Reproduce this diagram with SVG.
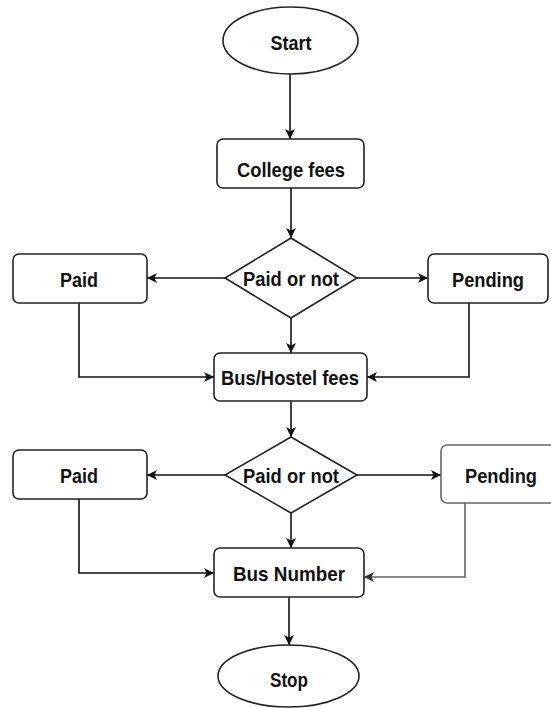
<svg xmlns="http://www.w3.org/2000/svg" width="551" height="708" viewBox="0 0 551 708">
<style>
.n{fill:#fff;stroke:#222;stroke-width:1.6}
.g{stroke:#666}
.t{font-family:"Liberation Sans",Arial,sans-serif;font-weight:bold;font-size:21px;fill:#111;text-anchor:middle}
.c{fill:none;stroke:#111;stroke-width:1.6;marker-end:url(#a)}
.cg{stroke:#666;marker-end:url(#ag)}
</style>
<defs>
<marker id="a" markerUnits="userSpaceOnUse" markerWidth="12" markerHeight="11" refX="10" refY="5.5" orient="auto">
<path d="M0,0.5 L10,5.5 L0,10.5 L2.5,5.5 Z" fill="#111"/>
</marker>
<marker id="ag" markerUnits="userSpaceOnUse" markerWidth="12" markerHeight="11" refX="10" refY="5.5" orient="auto">
<path d="M0,0.5 L10,5.5 L0,10.5 L2.5,5.5 Z" fill="#333"/>
</marker>
</defs>
<rect width="551" height="708" fill="#fff"/>
<g id="connectors">
<path class="c" d="M290,74 L290,139"/>
<path class="c" d="M291,188 L291,238"/>
<path class="c" d="M225,278 L147,278"/>
<path class="c" d="M357,278 L428,278"/>
<path class="c" d="M291,318 L291,353"/>
<path class="c" d="M79,303 L79,377 L214,377"/>
<path class="c" d="M469,303 L469,377 L367,377"/>
<path class="c" d="M291,401 L291,437"/>
<path class="c" d="M225,475 L147,475"/>
<path class="c" d="M357,475 L441,475"/>
<path class="c" d="M291,513 L291,548"/>
<path class="c" d="M79,499 L79,573 L214,573"/>
<path class="c cg" d="M465,503 L465,577 L364,577"/>
<path class="c" d="M289,597 L289,645"/>
</g>
<g id="start"><ellipse class="n" cx="290.5" cy="40.5" rx="67.5" ry="33.5"/><text class="t" x="291" y="50" textLength="41" lengthAdjust="spacingAndGlyphs">Start</text></g>
<g id="college"><rect class="n" x="217" y="139" width="147" height="49" rx="6"/><text class="t" x="291" y="177" textLength="108" lengthAdjust="spacingAndGlyphs">College fees</text></g>
<g id="decision1"><polygon class="n" points="291,238 357,278 291,318 225,278"/><text class="t" x="291" y="286" textLength="96" lengthAdjust="spacingAndGlyphs">Paid or not</text></g>
<g id="paid1"><rect class="n" x="13" y="254" width="134" height="49" rx="6"/><text class="t" x="79" y="287" textLength="38" lengthAdjust="spacingAndGlyphs">Paid</text></g>
<g id="pending1"><rect class="n" x="428" y="254" width="120" height="49" rx="6"/><text class="t" x="488" y="287" textLength="72" lengthAdjust="spacingAndGlyphs">Pending</text></g>
<g id="bushostel"><rect class="n" x="214" y="353" width="153" height="48" rx="6"/><text class="t" x="290" y="385" textLength="138" lengthAdjust="spacingAndGlyphs">Bus/Hostel fees</text></g>
<g id="decision2"><polygon class="n" points="291,437 357,475 291,513 225,475"/><text class="t" x="291" y="483" textLength="96" lengthAdjust="spacingAndGlyphs">Paid or not</text></g>
<g id="paid2"><rect class="n" x="13" y="450" width="134" height="49" rx="6"/><text class="t" x="79" y="483" textLength="38" lengthAdjust="spacingAndGlyphs">Paid</text></g>
<g id="pending2"><rect class="n g" x="441" y="445" width="125" height="58" rx="6"/><text class="t" x="501" y="483" textLength="72" lengthAdjust="spacingAndGlyphs">Pending</text></g>
<g id="busnumber"><rect class="n" x="214" y="548" width="150" height="49" rx="6"/><text class="t" x="289" y="581" textLength="112" lengthAdjust="spacingAndGlyphs">Bus Number</text></g>
<g id="stop"><ellipse class="n" cx="288.5" cy="676" rx="70.5" ry="31"/><text class="t" x="289" y="687" textLength="38" lengthAdjust="spacingAndGlyphs">Stop</text></g>
</svg>
